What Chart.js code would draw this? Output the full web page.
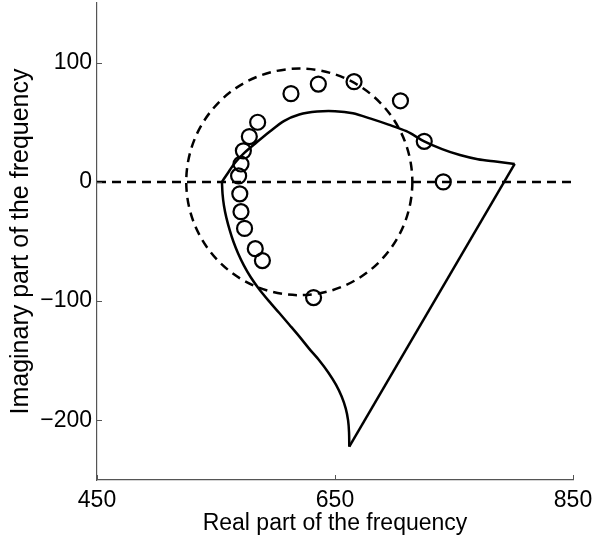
<!DOCTYPE html>
<html>
<head>
<meta charset="utf-8">
<script src="https://cdn.jsdelivr.net/npm/chart.js@4/dist/chart.umd.min.js"></script>
<style>
  html, body { margin: 0; padding: 0; background: #fff; }
  #wrap { width: 592px; height: 537px; }
</style>
</head>
<body>
<div id="wrap"><canvas id="c" width="592" height="537"></canvas></div>
<script>
// Axis setup
const xTicks = [450, 650, 850];
const yTicks = [-200, -100, 0, 100];

// Dashed reference circle (center, radius) and zero line
const circleCenter = [620, 0];
const circleRadius = 95;
const zeroLineX = [450, 850];

// Solid boundary in three pieces
const upperX = [555, 560, 566, 574, 584, 595, 607, 620, 635, 650, 665, 680, 695, 710, 725, 740, 755, 770, 785, 801];
const upperY = [0, 7.5, 16, 24.5, 33, 42, 51, 56.5, 59, 59.3, 57.5, 53, 48, 42.5, 34, 27.5, 22.5, 19, 17, 15];
const edgeX = [801, 662];
const edgeY = [15, -222];
const lowerX = [662, 661.8, 661, 659, 655.6, 650.8, 644.5, 637, 628.4, 620.3, 611.8, 603.2, 594.5, 586.3, 579.2, 573.4, 568.6, 564.6, 561.4, 558.7, 556.7, 555.5, 555];
const lowerY = [-222, -210, -200, -190, -180, -170, -160, -150, -140, -130, -120, -110, -100, -90, -80, -70, -60, -50, -40, -30, -20, -10, 0];

// Open circle markers
const markX = [741, 725, 705, 666, 636, 613, 585, 578, 573, 571, 569, 570, 571, 574, 583, 589, 632];
const markY = [0, 34, 68, 84, 82, 74, 50, 38, 26, 15, 5, -10, -25, -39, -56, -66, -97];

const pts = (xs, ys) => xs.map((x, i) => ({ x: x, y: ys[i] }));
const fmt = v => (v < 0 ? "\u2212" + Math.abs(v) : String(v));
const FONT = "'Liberation Sans', Arial, sans-serif";
const AXIS = "#555";

// draws the dashed circle through the chart scales
const circlePlugin = {
  id: "circle",
  beforeDatasetsDraw(chart) {
    const { ctx, scales: { x, y } } = chart;
    const cx = x.getPixelForValue(circleCenter[0]);
    const cy = y.getPixelForValue(circleCenter[1]);
    const rx = x.getPixelForValue(circleCenter[0] + circleRadius) - cx;
    const ry = cy - y.getPixelForValue(circleCenter[1] + circleRadius);
    ctx.save();
    ctx.strokeStyle = "#000";
    ctx.lineWidth = 2.5;
    ctx.setLineDash([9, 6]);
    ctx.beginPath();
    ctx.ellipse(cx, cy, rx, ry, 0, 0, Math.PI * 2);
    ctx.stroke();
    ctx.restore();
  }
};

// inward tick marks
const tickPlugin = {
  id: "inTicks",
  afterDraw(chart) {
    const { ctx, scales: { x, y } } = chart;
    ctx.save();
    ctx.strokeStyle = AXIS;
    ctx.lineWidth = 1;
    ctx.beginPath();
    xTicks.forEach(v => {
      const px = Math.round(x.getPixelForValue(v)) + 0.5;
      ctx.moveTo(px, y.bottom);
      ctx.lineTo(px, y.bottom - 5);
    });
    yTicks.forEach(v => {
      const py = Math.round(y.getPixelForValue(v)) + 0.5;
      ctx.moveTo(x.left, py);
      ctx.lineTo(x.left + 5, py);
    });
    ctx.stroke();
    ctx.restore();
  }
};

const lineStyle = { showLine: true, borderColor: "#000", borderWidth: 2.5, pointRadius: 0, fill: false };

new Chart(document.getElementById("c"), {
  type: "scatter",
  data: {
    datasets: [
      { ...lineStyle, data: pts(zeroLineX, [0, 0]), borderDash: [9, 6] },
      { ...lineStyle, data: pts(upperX, upperY), tension: 0.3 },
      { ...lineStyle, data: pts(edgeX, edgeY), tension: 0 },
      { ...lineStyle, data: pts(lowerX, lowerY), tension: 0.3 },
      {
        data: pts(markX, markY), showLine: false, pointStyle: "circle",
        pointRadius: 7.5, pointBorderWidth: 2.2, pointBorderColor: "#000",
        pointBackgroundColor: "rgba(0,0,0,0)"
      }
    ]
  },
  options: {
    responsive: false,
    animation: false,
    layout: { autoPadding: false, padding: { top: 3, right: 19, left: 0, bottom: 0 } },
    plugins: { legend: { display: false }, tooltip: { enabled: false } },
    scales: {
      x: {
        type: "linear", min: 450, max: 850,
        afterBuildTicks: s => { s.ticks = xTicks.map(v => ({ value: v })); },
        afterFit: s => { s.height = 57; s.paddingLeft = 0; s.paddingRight = 0; },
        grid: { display: false, drawTicks: false },
        border: { color: AXIS, width: 1.2 },
        ticks: { padding: 7, color: "#000", font: { family: FONT, size: 23 }, callback: fmt, maxRotation: 0 },
        title: { display: true, text: "Real part of the frequency", color: "#000", font: { family: FONT, size: 23 }, padding: { top: 2, bottom: 0 } }
      },
      y: {
        type: "linear", min: -250, max: 150,
        afterBuildTicks: s => { s.ticks = yTicks.map(v => ({ value: v })); },
        afterFit: s => { s.width = 97; s.paddingTop = 0; s.paddingBottom = 0; },
        grid: { display: false, drawTicks: false },
        border: { color: AXIS, width: 1.2 },
        ticks: { padding: 5, color: "#000", font: { family: FONT, size: 23 }, callback: fmt },
        title: { display: true, text: "Imaginary part of the frequency", color: "#000", font: { family: FONT, size: 25 }, padding: { top: 6, bottom: 0 } }
      }
    }
  },
  plugins: [circlePlugin, tickPlugin]
});
</script>
</body>
</html>
